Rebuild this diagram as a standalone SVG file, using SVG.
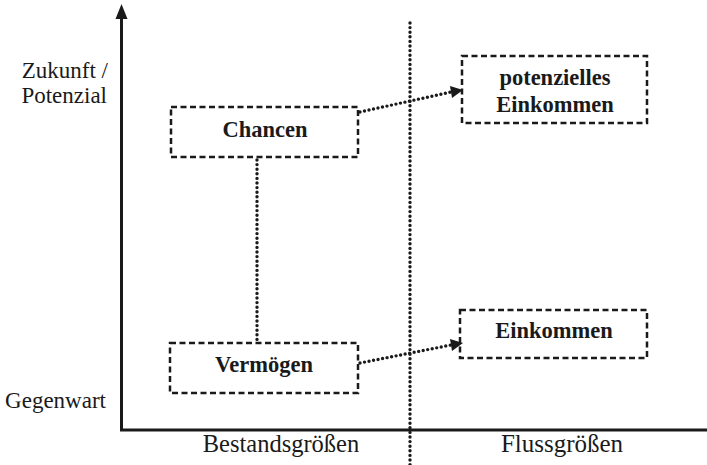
<svg xmlns="http://www.w3.org/2000/svg" width="707" height="465" viewBox="0 0 707 465">
<style>
.box{fill:none;stroke:#1a1a1a;stroke-width:2.5;stroke-dasharray:6 3.5}
.dot{fill:none;stroke:#1a1a1a;stroke-width:3.4;stroke-dasharray:0 4.6;stroke-linecap:round}
.axis{fill:none;stroke:#1a1a1a;stroke-width:3}
.lbl{font-family:"Liberation Serif",serif;font-size:23px;fill:#1a1a1a}
.nl{font-family:"Liberation Serif",serif;font-size:22.5px;font-weight:bold;fill:#1a1a1a;text-anchor:middle}
</style>
<g id="axes">
<line class="axis" x1="121.5" y1="431" x2="121.5" y2="16"/>
<path d="M115.5,19 L121.5,4 L127.5,19 Z" fill="#1a1a1a"/>
<line class="axis" x1="120" y1="430" x2="707" y2="430"/>
<line class="dot" x1="410" y1="23" x2="410" y2="465"/>
</g>
<g id="labels">
<text class="lbl" x="108" y="78" text-anchor="end">Zukunft /</text>
<text class="lbl" x="107" y="103" text-anchor="end">Potenzial</text>
<text class="lbl" x="106" y="408" text-anchor="end">Gegenwart</text>
<text class="lbl" x="281" y="452" text-anchor="middle" style="font-size:24.5px">Bestandsgrößen</text>
<text class="lbl" x="562" y="452" text-anchor="middle" style="font-size:25px">Flussgrößen</text>
</g>
<g id="connectors">
<line class="dot" x1="257" y1="160" x2="257" y2="341"/>
<line class="dot" x1="360" y1="112" x2="451" y2="92"/>
<path d="M450,86 L463,90 L452,98 Z" fill="#1a1a1a"/>
<line class="dot" x1="360" y1="363" x2="451" y2="345"/>
<path d="M450,339 L463,343 L452,351 Z" fill="#1a1a1a"/>
</g>
<g id="chancen">
<rect class="box" x="171" y="107" width="187" height="50"/>
<text class="nl" x="265" y="137">Chancen</text>
</g>
<g id="vermoegen">
<rect class="box" x="170" y="343" width="188" height="50"/>
<text class="nl" x="264" y="372">Vermögen</text>
</g>
<g id="pot-einkommen">
<rect class="box" x="462" y="56" width="185" height="67"/>
<text class="nl" x="555" y="85">potenzielles</text>
<text class="nl" x="555" y="112">Einkommen</text>
</g>
<g id="einkommen">
<rect class="box" x="460" y="310" width="187" height="48"/>
<text class="nl" x="554" y="338">Einkommen</text>
</g>
</svg>
